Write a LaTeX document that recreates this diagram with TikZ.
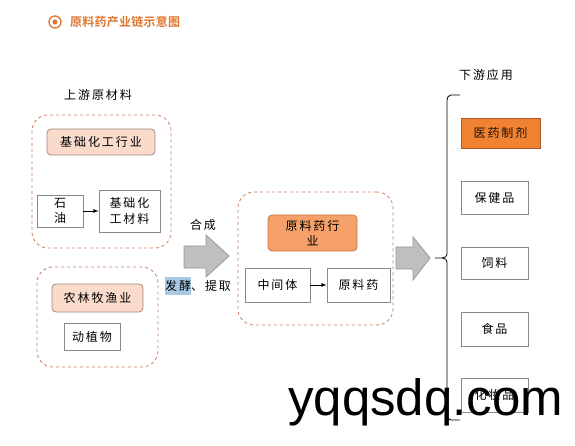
\documentclass[tikz,border=0pt]{standalone}
\usepackage{fontspec}
\newfontfamily\cjk[LetterSpace=16]{Noto Sans CJK SC}
\newfontfamily\cjkb[LetterSpace=2]{Noto Sans CJK SC Bold}
\newfontfamily\wm{Liberation Sans}
\definecolor{titlec}{HTML}{E0762F}
\definecolor{dashc}{HTML}{C8805F}
\definecolor{peach}{HTML}{FADBCB}
\definecolor{peachb}{HTML}{A08878}
\definecolor{lorange}{HTML}{F4A068}
\definecolor{lorangeb}{HTML}{C87848}
\definecolor{dorange}{HTML}{F08232}
\definecolor{dorangeb}{HTML}{A8582A}
\definecolor{arrowf}{HTML}{BFBFBF}
\definecolor{arrowb}{HTML}{9A9A9A}
\definecolor{boxb}{HTML}{8A8A8A}
\definecolor{hl}{HTML}{A9C9E2}
\tikzset{
  dashbox/.style={draw=dashc, dashed, thick, rounded corners=16pt, inner sep=0pt},
  whitebox/.style={draw=boxb, fill=white, thick, inner sep=0pt, align=center, font=\cjk\fontsize{12}{16}\selectfont},
  peachbox/.style={whitebox, draw=peachb, fill=peach, rounded corners=4pt},
  obox/.style={whitebox, draw=lorangeb, fill=lorange, rounded corners=4pt},
  dobox/.style={whitebox, draw=dorangeb, fill=dorange, text=black!85!brown},
  lbl/.style={font=\cjk\fontsize{12}{14}\selectfont, inner sep=1pt},
  bigarrow/.style={draw=arrowb, fill=arrowf, thick},
  link/.style={-latex, thick, black}
}
\begin{document}
\begin{tikzpicture}[x=1pt,y=-1pt]
\useasboundingbox[fill=white] (0,0) rectangle (575,446);
% title
\node[circle, draw=titlec, line width=1.3pt, minimum size=12pt, inner sep=0pt] (ticon) at (55,22) {};
\node[circle, fill=titlec, minimum size=5pt, inner sep=0pt] (tdot) at (ticon.center) {};
\node[anchor=west, text=titlec, font=\cjkb\fontsize{12}{14}\selectfont, inner sep=0pt] (title) at (70,22) {原料药产业链示意图};

% upstream
\node[lbl] (up) at (98,95) {上游原材料};
\node[dashbox, minimum width=139pt, minimum height=133pt] (d1) at (101.5,181.5) {};
\node[peachbox, minimum width=108pt, minimum height=26pt] (chem) at (101,142) {基础化工行业};
\node[whitebox, minimum width=46pt, minimum height=32pt, font=\cjk\fontsize{12}{15}\selectfont] (oil) at (60,211) {石\\油};
\node[whitebox, minimum width=61pt, minimum height=42pt] (mat) at (129.5,211) {基础化\\工材料};
\draw[link] (oil) -- (mat);

\node[dashbox, minimum width=121pt, minimum height=100pt] (d2) at (97.5,317) {};
\node[peachbox, minimum width=91pt, minimum height=28pt] (agri) at (97.5,298) {农林牧渔业};
\node[whitebox, minimum width=56pt, minimum height=27pt] (plant) at (92,336.5) {动植物};

% arrow 1
\draw[bigarrow] (184,246) -- (206,246) -- (206,235) -- (229,256) -- (206,277) -- (206,268) -- (184,268) -- cycle;
\node[lbl] (syn) at (203,225) {合成};
\node[lbl, anchor=west] (ferm) at (164,286) {\colorbox{hl}{\hspace{-3pt}发酵\hspace{-3pt}}、提取};

% middle
\node[dashbox, minimum width=155pt, minimum height=133pt] (d3) at (315.5,258.5) {};
\node[obox, minimum width=89pt, minimum height=36pt, font=\cjk\fontsize{12}{15}\selectfont] (api) at (312.5,233) {原料药行\\业};
\node[whitebox, minimum width=65pt, minimum height=34pt] (inter) at (277.5,285) {中间体};
\node[whitebox, minimum width=63pt, minimum height=34pt] (raw) at (358.5,285) {原料药};
\draw[link] (inter) -- (raw);

% arrow 2
\draw[bigarrow] (396,247) -- (413,247) -- (413,237) -- (430,258) -- (413,280) -- (413,269) -- (396,269) -- cycle;

% downstream
\node[lbl] (down) at (486,75) {下游应用};
\coordinate (bt) at (460,95);
\coordinate (bm) at (435,258);
\coordinate (bb) at (460,420);
\draw[thick] (bt) -- (451,95) to[out=180,in=90] (447,100) -- (447,254) to[out=-90,in=0] (bm) to[out=0,in=90] (447,262) -- (447,415) to[out=-90,in=180] (451,420) -- (bb);
\node[dobox, minimum width=79pt, minimum height=30pt] (prep) at (500.5,133) {医药制剂};
\node[whitebox, minimum width=67pt, minimum height=33pt] (health) at (494.5,197.5) {保健品};
\node[whitebox, minimum width=67pt, minimum height=32pt] (feed) at (494.5,263) {饲料};
\node[whitebox, minimum width=67pt, minimum height=34pt] (food) at (494.5,329) {食品};
\node[whitebox, minimum width=67pt, minimum height=34pt] (cosm) at (494.5,395) {化妆品};

% watermark
\node[anchor=base west, inner sep=0pt, font=\wm\fontsize{51}{51}\selectfont] (wmark) at (288,415) {yqqsdq.com};
\end{tikzpicture}
\end{document}
